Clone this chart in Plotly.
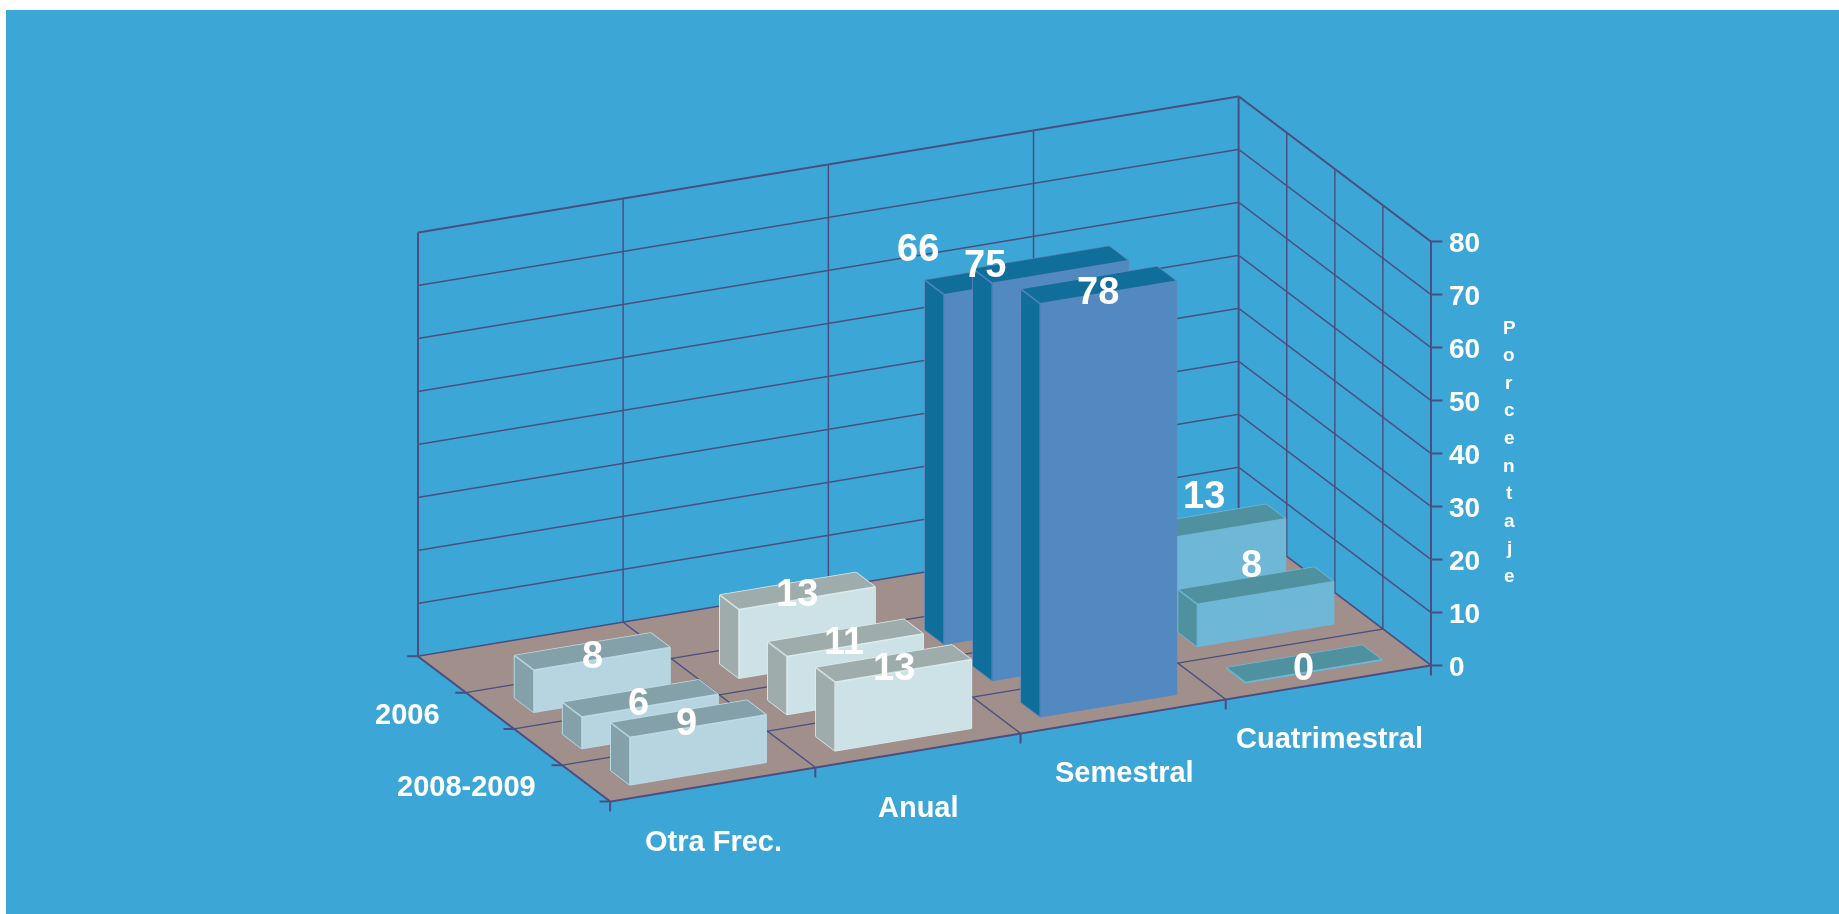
import plotly.graph_objects as go

categories = ["Otra Frec.", "Anual", "Semestral", "Cuatrimestral"]
row_labels = ["2006", "", "2008-2009"]
row_depths = [1.5, 2.5, 3.5]
otra = [8, 6, 9]
anual = [13, 11, 13]
semestral = [66, 75, 78]
cuatrimestral = [13, 8, 0]
series_values = [otra, anual, semestral, cuatrimestral]
z_ticks = [0, 10, 20, 30, 40, 50, 60, 70, 80]
x_grid = [0, 1, 2, 3, 4]
y_grid = [0, 1, 2, 3, 4]
axis_title = "Porcentaje"

BG = "#3CA7D6"
LINE = "#4B4E80"
FLOOR = "#A08F8B"
front_colors = ["#B7D5E1", "#CDE2E6", "#5389C1", "#6FB7D7"]
side_colors = ["#84A0A8", "#9FACAC", "#106E9B", "#50919F"]
edge_colors = ["#BCDDE8", "#DCEBEE", "#5C87BC", "#6FB7D7"]
label_shifts = [
    [(2, 3), (0, 3), (0, 3)],
    [(1, 2), (0, 3), (2, 3)],
    [(-83, -28), (-64, -1), (1, 6)],
    [(-2, -28), (-3, -22), (1, 2)],
]

BAR_X0, BAR_X1, BAR_HALF_DEPTH = 0.166, 0.83, 0.2
EYE_DIR = (-0.397, -0.847, 0.354)
SCALE = 1.0323

fig = go.Figure()


def depth_to_y(d):
    return 4 - d


def add_lines(segments, width, color=LINE):
    ex, ey, ez = [], [], []
    for (a, b) in segments:
        ex += [a[0], b[0], None]
        ey += [a[1], b[1], None]
        ez += [a[2], b[2], None]
    fig.add_trace(go.Scatter3d(
        x=ex, y=ey, z=ez, mode="lines", hoverinfo="skip", showlegend=False,
        line=dict(color=color, width=width),
    ))


# walls and floor grid, placed on the axis bounds
thin = []
for v in z_ticks[1:-1]:
    thin.append(((0, 4, v), (4, 4, v)))
    thin.append(((4, 4, v), (4, 0, v)))
for x in x_grid[1:-1]:
    thin.append(((x, 4, 0), (x, 4, 80)))
    thin.append(((x, 4, 0), (x, 0, 0)))
for y in y_grid[1:-1]:
    thin.append(((4, y, 0), (4, y, 80)))
    thin.append(((0, y, 0), (4, y, 0)))
add_lines(thin, 3)
thick = [
    ((0, 4, 80), (4, 4, 80)), ((4, 4, 80), (4, 0, 80)),
    ((0, 4, 0), (0, 4, 80)), ((4, 4, 0), (4, 4, 80)), ((4, 0, 0), (4, 0, 80)),
    ((0, 4, 0), (4, 4, 0)), ((4, 4, 0), (4, 0, 0)),
    ((0, 4, 0), (0, 0, 0)), ((0, 0, 0), (4, 0, 0)),
]
add_lines(thick, 4)

annotations = []
for ci, vals in enumerate(series_values):
    for ri, v in enumerate(vals):
        d = row_depths[ri]
        x0, x1 = ci + BAR_X0, ci + BAR_X1
        yf, yb = depth_to_y(d + BAR_HALF_DEPTH), depth_to_y(d - BAR_HALF_DEPTH)
        h = max(v, 0.12)
        xs = [x0, x1, x1, x0, x0, x1, x1, x0]
        ys = [yf, yf, yb, yb, yf, yf, yb, yb]
        zs = [0, 0, 0, 0, h, h, h, h]
        tri = [
            (0, 1, 5), (0, 5, 4),  # front
            (0, 4, 7), (0, 7, 3),  # left
            (4, 5, 6), (4, 6, 7),  # top
            (1, 2, 6), (1, 6, 5),  # right
            (3, 7, 6), (3, 6, 2),  # back
        ]
        fc = [front_colors[ci]] * 2 + [side_colors[ci]] * 2 + [side_colors[ci]] * 2 + [front_colors[ci]] * 4
        fig.add_trace(go.Mesh3d(
            x=xs, y=ys, z=zs,
            i=[t[0] for t in tri], j=[t[1] for t in tri], k=[t[2] for t in tri],
            facecolor=fc, flatshading=True, hoverinfo="skip", showscale=False,
            lighting=dict(ambient=1, diffuse=0, specular=0, roughness=1, fresnel=0),
        ))
        edges = [(0, 1), (1, 5), (5, 4), (4, 0), (0, 3), (3, 7), (7, 4), (7, 6), (6, 5)]
        add_lines([((xs[a], ys[a], zs[a]), (xs[b], ys[b], zs[b])) for a, b in edges], 3, edge_colors[ci])
        sx, sy = label_shifts[ci][ri]
        annotations.append(dict(
            x=ci + 0.49, y=depth_to_y(d), z=v, text=f"<b>{v}</b>", showarrow=False,
            xanchor="center", yanchor="middle", xshift=sx, yshift=-sy,
            font=dict(family="Liberation Sans", size=38, color="white"),
        ))

tick_style = dict(showarrow=True, arrowhead=0, arrowwidth=2, arrowcolor=LINE, text=" ",
                  font=dict(size=1))
z_font = dict(family="Liberation Sans", size=28, color="white")
label_font = dict(family="Liberation Sans", size=29, color="white")
for v in z_ticks:
    annotations.append(dict(x=4, y=0, z=v, ax=13, ay=0, **tick_style))
    annotations.append(dict(x=4, y=0, z=v, text=f"<b>{v}</b>", showarrow=False,
                            xanchor="left", yanchor="middle", xshift=16, yshift=-1, font=z_font))
for i in range(5):
    annotations.append(dict(x=i, y=0, z=0, ax=0, ay=12, **tick_style))
    annotations.append(dict(x=0, y=4 - i, z=0, ax=-12, ay=0, **tick_style))
for i, name in enumerate(categories):
    annotations.append(dict(x=i + 0.5, y=0, z=0, text=f"<b>{name}</b>", showarrow=False,
                            xanchor="center", yanchor="middle", xshift=1, yshift=-56, font=label_font))
for name, d in zip(row_labels, row_depths):
    if name:
        annotations.append(dict(x=0, y=depth_to_y(d), z=0, text=f"<b>{name}</b>", showarrow=False,
                                xanchor="right", yanchor="middle", xshift=-48, yshift=-3, font=label_font))

PW, PH = 1833, 904
paper_annotations = []
for i, ch in enumerate(axis_title):
    paper_annotations.append(dict(
        xref="paper", yref="paper", x=(1509 - 6) / PW, y=1 - (327 + i * 27.6 - 10) / PH,
        text=f"<b>{ch}</b>", showarrow=False, xanchor="center", yanchor="middle",
        font=dict(family="Liberation Sans", size=19, color="white"),
    ))


def axis(rng, show_bg=False, bg=BG):
    return dict(
        range=rng, tickmode="array", tickvals=[], showticklabels=False, ticks="",
        title=dict(text=""), showgrid=False, zeroline=False,
        showline=False, showspikes=False, showbackground=show_bg, backgroundcolor=bg,
        autorange=False,
    )


fig.update_layout(
    width=PW, height=PH, paper_bgcolor=BG, margin=dict(l=0, r=0, t=0, b=0), showlegend=False,
    annotations=paper_annotations,
    scene=dict(
        domain=dict(x=[0.002, 1], y=[0.0288, 1]),
        aspectmode="manual", aspectratio=dict(x=2 * SCALE, y=SCALE, z=SCALE),
        xaxis=axis([0, 4]),
        yaxis=axis([0, 4]),
        zaxis=axis([0, 80], True, FLOOR),
        camera=dict(
            projection=dict(type="orthographic"), up=dict(x=0, y=0, z=1),
            center=dict(x=0, y=0, z=0),
            eye=dict(x=EYE_DIR[0], y=EYE_DIR[1], z=EYE_DIR[2]),
        ),
        annotations=annotations,
    ),
)

fig.write_html(
    "out.html",
    config=dict(displayModeBar=False),
    post_script="document.body.style.margin='10px 0 0 6px';document.body.style.overflow='hidden';",
)
